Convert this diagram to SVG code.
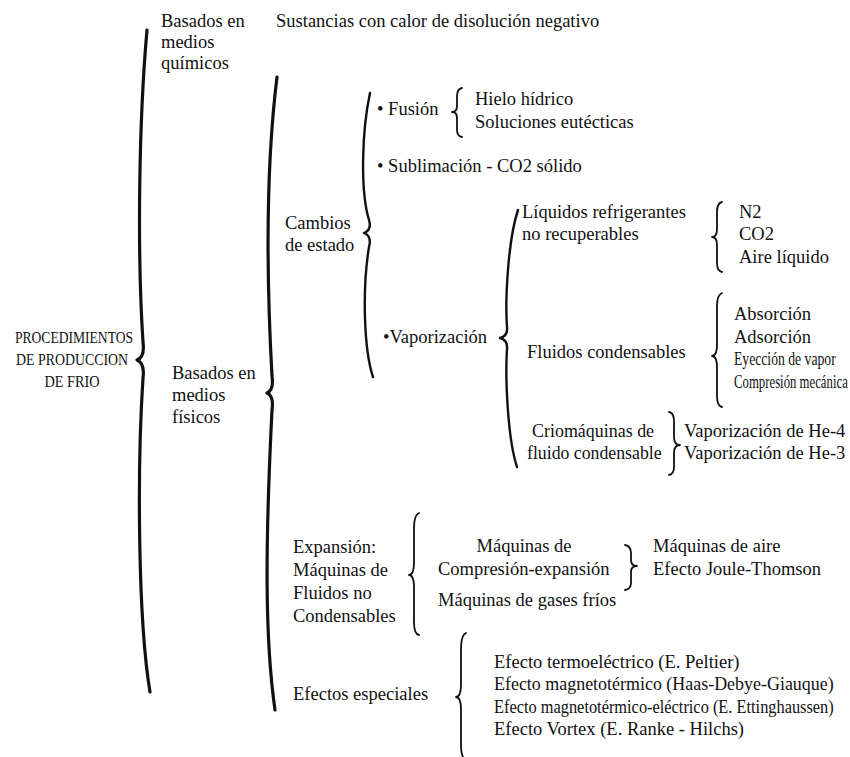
<svg xmlns="http://www.w3.org/2000/svg" width="850" height="757" viewBox="0 0 850 757">
<style>
  text { font-family: "Liberation Serif", "Times New Roman", serif; font-size: 18.5px; fill: #111; }
  .caps { font-size: 16px; }
  .br { fill: none; stroke: #111; stroke-linecap: round; stroke-linejoin: round; }
  .big { stroke-width: 3.2; }
  .mid { stroke-width: 2.4; }
  .sm { stroke-width: 1.8; }
</style>
<rect width="850" height="757" fill="#fff"/>

<g id="connectors">
  <path class="br big" d="M147,30 C139,120 137,250 143,342 Q145,357 137,360 Q145,363 143,378 C137,470 138,620 150,692"/>
  <path class="br big" d="M277,77 C268,150 265,250 272,376 Q274,390 267,393 Q274,396 272,410 C265,550 265,640 275,710"/>
  <path class="br mid" d="M370,93 C362,130 360,190 369,220 Q372,230 364,233 Q372,236 369,247 C362,290 364,350 373,377"/>
  <path class="br mid" d="M518,210 C508,240 505,300 507,327 Q508,336 500,338 Q508,340 507,349 C505,380 508,440 517,467"/>
  <path class="br sm" d="M462,88 Q457,89 457,96 L457,106 Q457,112 452,112 Q457,112 457,118 L457,130 Q457,136 462,137"/>
  <path class="br sm" d="M722,202 Q717,203 717,212 L717,229 Q717,237 712,237 Q717,237 717,245 L717,263 Q717,271 722,272"/>
  <path class="br sm" d="M722,293 Q717,295 717,306 L717,344 Q717,356 712,356 Q717,356 717,368 L717,396 Q717,406 722,407"/>
  <path class="br sm" d="M669,412 Q674,413 674,421 L674,437 Q674,445 680,445 Q674,445 674,453 L674,467 Q674,474 669,475"/>
  <path class="br sm" d="M625,545 Q631,546 631,553 L631,560 Q631,566 637,566 Q631,566 631,572 L631,583 Q631,589 625,590"/>
  <path class="br sm" d="M419,513 Q414,515 414,528 L414,562 Q414,575 409,575 Q414,575 414,588 L414,622 Q414,634 419,635"/>
  <path class="br sm" d="M466,633 Q461,635 461,650 L461,684 Q461,697 456,697 Q461,697 461,710 L461,745 Q461,758 466,760"/>
</g>

<g id="root">
  <text class="caps" x="74" y="343" text-anchor="middle" textLength="118" lengthAdjust="spacingAndGlyphs">PROCEDIMIENTOS</text>
  <text class="caps" x="72" y="365" text-anchor="middle" textLength="112" lengthAdjust="spacingAndGlyphs">DE PRODUCCION</text>
  <text class="caps" x="72" y="387" text-anchor="middle" textLength="55" lengthAdjust="spacingAndGlyphs">DE FRIO</text>
</g>

<g id="quimicos">
  <text x="161" y="27">Basados en</text>
  <text x="161" y="48">medios</text>
  <text x="161" y="69">químicos</text>
</g>
<g id="sustancias">
  <text x="276" y="27">Sustancias con calor de disolución negativo</text>
</g>

<g id="fisicos">
  <text x="172" y="379">Basados en</text>
  <text x="172" y="401">medios</text>
  <text x="172" y="423">físicos</text>
</g>

<g id="cambios">
  <text x="285" y="229">Cambios</text>
  <text x="285" y="251">de estado</text>
</g>

<g id="fusion"><text x="377" y="115">• Fusión</text></g>
<g id="fusion-items">
  <text x="475" y="105">Hielo hídrico</text>
  <text x="475" y="128">Soluciones eutécticas</text>
</g>
<g id="sublimacion"><text x="377" y="172">• Sublimación - CO2 sólido</text></g>

<g id="vaporizacion"><text x="383" y="343">•Vaporización</text></g>

<g id="liquidos">
  <text x="522" y="218">Líquidos refrigerantes</text>
  <text x="522" y="240">no recuperables</text>
</g>
<g id="liquidos-items">
  <text x="739" y="218">N2</text>
  <text x="739" y="240">CO2</text>
  <text x="739" y="263">Aire líquido</text>
</g>

<g id="fluidos"><text x="527" y="358">Fluidos condensables</text></g>
<g id="fluidos-items">
  <text x="734" y="320">Absorción</text>
  <text x="734" y="343">Adsorción</text>
  <text transform="translate(734,365) scale(0.76,1)" style="font-size:18px">Eyección de vapor</text>
  <text transform="translate(734,388) scale(0.71,1)" style="font-size:18px">Compresión mecánica</text>
</g>

<g id="crio">
  <text transform="translate(532,437) scale(0.97,1)">Criomáquinas de</text>
  <text transform="translate(527,459) scale(0.96,1)">fluido condensable</text>
</g>
<g id="crio-items">
  <text x="684" y="437">Vaporización de He-4</text>
  <text x="684" y="459">Vaporización de He-3</text>
</g>

<g id="expansion">
  <text x="293" y="553">Expansión:</text>
  <text x="293" y="576">Máquinas de</text>
  <text x="293" y="599">Fluidos no</text>
  <text x="293" y="622">Condensables</text>
</g>
<g id="compresion">
  <text x="524" y="552" text-anchor="middle">Máquinas de</text>
  <text x="438" y="575">Compresión-expansión</text>
</g>
<g id="compresion-items">
  <text x="653" y="552">Máquinas de aire</text>
  <text x="653" y="575">Efecto Joule-Thomson</text>
</g>
<g id="gases"><text x="438" y="606">Máquinas de gases fríos</text></g>

<g id="efectos"><text x="293" y="700">Efectos especiales</text></g>
<g id="efectos-items">
  <text x="494" y="668">Efecto termoeléctrico (E. Peltier)</text>
  <text transform="translate(494,690) scale(0.97,1)">Efecto magnetotérmico (Haas-Debye-Giauque)</text>
  <text transform="translate(494,713) scale(0.885,1)">Efecto magnetotérmico-eléctrico (E. Ettinghaussen)</text>
  <text x="494" y="735">Efecto Vortex (E. Ranke - Hilchs)</text>
</g>
</svg>
